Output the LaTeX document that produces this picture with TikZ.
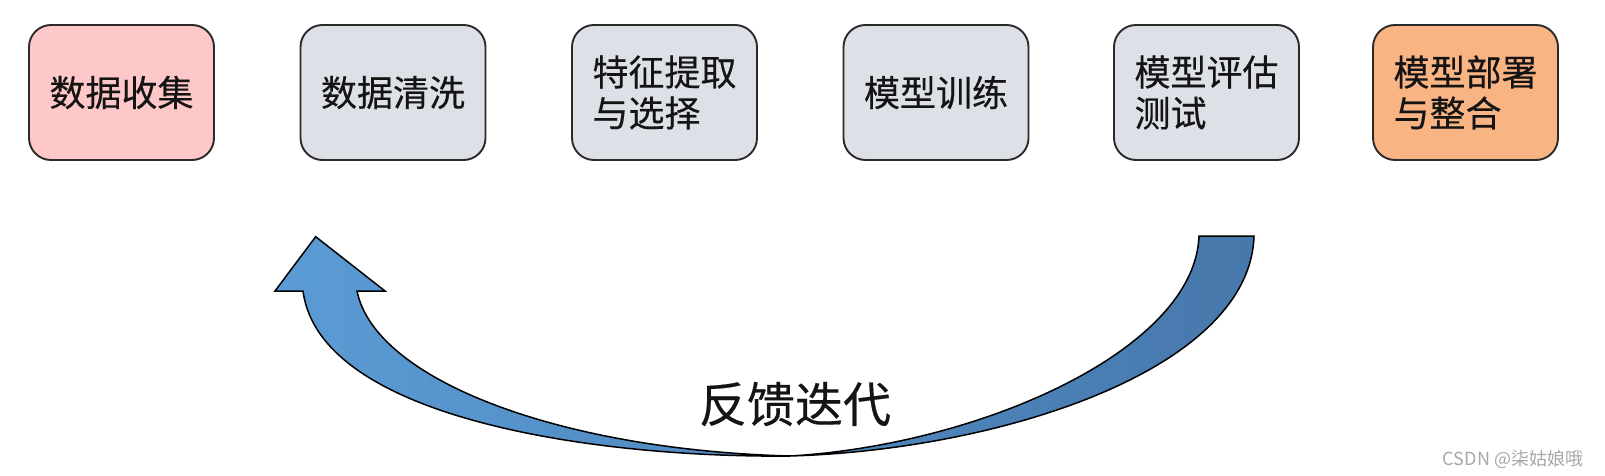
\documentclass[tikz,border=0pt]{standalone}
\usepackage{fontspec}
\newfontfamily\cjk{Noto Sans CJK SC}[FakeBold=0.35]
\newfontfamily\cjkwm{Noto Sans CJK SC}
\definecolor{pinkfill}{HTML}{FFC8C8}
\definecolor{grayfill}{HTML}{DDE1E7}
\definecolor{orangefill}{HTML}{F8B483}
\definecolor{arrowlight}{HTML}{5B9BD5}
\definecolor{arrowdark}{HTML}{4778AC}
\definecolor{wmgray}{HTML}{A8A8A8}
\definecolor{boxline}{HTML}{2A2A2A}
\begin{document}
\begin{tikzpicture}[x=1pt,y=-1pt,
  stagebox/.style={draw=boxline, line width=1.9pt, rounded corners=22pt,
    minimum width=185pt, minimum height=135pt, inner sep=0pt, align=left,
    font=\cjk\fontsize{36}{41}\selectfont, text=black!92},
  bigarrow/.style={draw=black, line width=1.5pt, left color=arrowlight, right color=arrowdark, line join=miter}]
\useasboundingbox (0,0) rectangle (1605,476);
\node[stagebox, fill=pinkfill] (s1) at (121.5,92.5) {数据收集};
\node[stagebox, fill=grayfill] (s2) at (393,92.5) {数据清洗};
\node[stagebox, fill=grayfill] (s3) at (664.5,92.5) {特征提取\\与选择};
\node[stagebox, fill=grayfill] (s4) at (936,92.5) {模型训练};
\node[stagebox, fill=grayfill] (s5) at (1206.5,92.5) {模型评估\\测试};
\node[stagebox, fill=orangefill] (s6) at (1465.5,92.5) {模型部署\\与整合};
% curved feedback arrow
\coordinate (B) at (790,456);
\path[bigarrow] (B)
  .. controls (600,458) and (320,420) .. (303,291)
  -- (275,291) -- (315.7,236.7) -- (385,291) -- (357,291)
  .. controls (375,380) and (560,450) .. (B)
  .. controls (980,445) and (1195,350) .. (1199,236)
  -- (1254,236)
  .. controls (1250,370) and (1000,450) .. (B) -- cycle;
\node[font=\cjk\fontsize{48}{52}\selectfont, text=black!92] (fb) at (795,404) {反馈迭代};
\node[font=\cjkwm\fontsize{18}{21}\selectfont, text=wmgray] (wm) at (1513,459) {CSDN @柒姑娘哦};
\end{tikzpicture}
\end{document}
